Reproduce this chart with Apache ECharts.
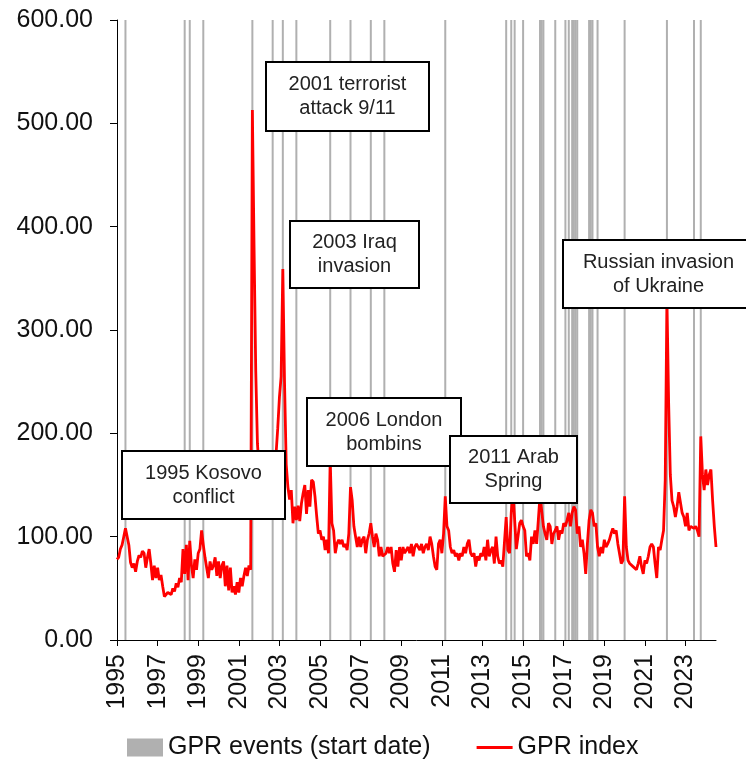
<!DOCTYPE html>
<html>
<head>
<meta charset="utf-8">
<title>GPR index and events</title>
<script src="https://cdn.jsdelivr.net/npm/echarts@6/dist/echarts.min.js"></script>
<style>
  html, body { margin: 0; padding: 0; background: #fff; }
  #gprChart { width: 746px; height: 760px; }
</style>
</head>
<body>
<div id="gprChart"></div>
<script>
// monthly GPR index, Jan 1995 .. Jul 2024 (12 values per row)
const startYear = 1995;
const gprIndex = [
  78, 80, 88, 92, 100, 108, 107, 92, 75, 70, 74, 66,        // 1995
  76, 82, 80, 86, 84, 70, 80, 88, 74, 58, 72, 60,           // 1996
  70, 58, 63, 52, 42, 44, 46, 47, 44, 50, 47, 55,           // 1997
  51, 60, 56, 88, 64, 92, 58, 96, 72, 60, 78, 68,           // 1998
  84, 88, 106, 92, 80, 70, 60, 76, 68, 72, 80, 62,          // 1999
  76, 60, 72, 76, 52, 72, 48, 70, 46, 52, 44, 56,           // 2000
  46, 60, 52, 62, 70, 62, 72, 68, 513, 380, 260, 190,       // 2001
  165, 150, 145, 150, 160, 140, 135, 150, 165, 170, 180, 205, // 2002
  235, 255, 359, 250, 170, 148, 136, 145, 113, 129, 116, 130, // 2003
  115, 132, 142, 150, 122, 145, 129, 155, 153, 139, 120, 103, // 2004
  106, 97, 100, 87, 97, 84, 175, 113, 106, 84, 93, 97,      // 2005
  93, 97, 90, 93, 87, 103, 148, 135, 110, 100, 90, 100,     // 2006
  90, 97, 100, 84, 97, 103, 113, 100, 90, 103, 97, 81,      // 2007
  90, 81, 81, 84, 90, 84, 90, 74, 66, 87, 71, 90,           // 2008
  77, 90, 84, 87, 90, 84, 93, 81, 90, 93, 90, 87,           // 2009
  93, 84, 90, 93, 87, 100, 93, 81, 71, 68, 93, 97,          // 2010
  84, 103, 139, 110, 106, 90, 84, 87, 81, 84, 77, 84,       // 2011
  81, 90, 84, 93, 97, 84, 81, 84, 71, 81, 77, 84,           // 2012
  81, 90, 77, 97, 81, 87, 90, 74, 100, 81, 74, 77,          // 2013
  71, 71, 119, 87, 84, 123, 145, 145, 88, 87, 113, 116,     // 2014
  110, 106, 81, 84, 77, 100, 93, 106, 93, 116, 140, 140,    // 2015
  110, 103, 97, 113, 110, 93, 103, 106, 110, 97, 106, 103,  // 2016
  113, 110, 116, 123, 110, 123, 129, 126, 103, 110, 90, 97, // 2017
  84, 64, 93, 116, 126, 123, 110, 113, 90, 81, 90, 84,      // 2018
  97, 90, 93, 97, 103, 108, 103, 106, 93, 93, 74, 77,       // 2019
  139, 90, 77, 74, 73, 71, 71, 68, 74, 81, 71, 64,          // 2020
  77, 74, 81, 90, 93, 90, 74, 60, 90, 87, 97, 106,          // 2021
  155, 330, 230, 160, 135, 129, 119, 129, 143, 143, 123, 119, // 2022
  110, 123, 106, 110, 110, 108, 110, 106, 100, 197, 160, 145, // 2023
  165, 150, 160, 165, 135, 110, 90                          // 2024
];

// start months of the GPR events (grey lines)
const eventMonths = [
  '1995-06', '1998-05', '1998-08', '1999-04', '2001-09', '2002-09',
  '2003-03', '2003-11', '2005-07', '2006-07', '2007-07', '2008-03',
  '2011-03', '2014-03', '2014-06', '2014-08', '2015-01', '2015-11',
  '2015-12', '2016-01', '2016-08', '2017-02', '2017-04', '2017-06',
  '2017-07', '2017-08', '2017-09', '2018-04', '2018-05', '2018-06',
  '2018-09', '2020-01', '2022-02', '2023-06', '2023-10'
];

const noteTexts = [
  '2001 terrorist\nattack 9/11',
  '2003 Iraq\ninvasion',
  'Russian invasion\nof Ukraine',
  '1995 Kosovo\nconflict',
  '2006 London\nbombins',
  '2011 Arab\nSpring'
];
// box layout for the notes above (pixels: x, y, w, h)
const noteBoxes = [
  [266, 62, 163, 69],
  [290, 221, 129, 67],
  [563, 240, 191, 68],
  [122, 451, 163, 68],
  [307, 398, 154, 68],
  [450, 436, 127, 67]
];

const months = [];
for (let i = 0; i < gprIndex.length; i++) {
  const y = startYear + Math.floor(i / 12);
  const m = (i % 12) + 1;
  months.push(y + '-' + (m < 10 ? '0' + m : m));
}
const eventBars = months.map((m) => (eventMonths.indexOf(m) >= 0 ? 600 : null));

const font = '"Liberation Sans", Arial, sans-serif';
const every2Years = (idx) => idx % 24 === 0;
// thin horizontal bar, padded to a 36x18 box so it is not stretched
const lineIcon = 'path://M0,0L0.01,0L0,0Z M0,7.5H36V10.5H0Z M0,18L0.01,18L0,18Z';

const notes = [];
noteBoxes.forEach((b, k) => {
  notes.push({
    type: 'rect',
    z: 100 + k * 2,
    shape: { x: b[0], y: b[1], width: b[2], height: b[3] },
    style: { fill: '#ffffff', stroke: '#000', lineWidth: 2 }
  });
  notes.push({
    type: 'text',
    z: 101 + k * 2,
    x: b[0] + b[2] / 2,
    y: b[1] + b[3] / 2,
    style: {
      text: noteTexts[k],
      fontFamily: font,
      fontSize: 20,
      lineHeight: 24,
      fill: '#222',
      align: 'center',
      verticalAlign: 'middle',
      textAlign: 'center',
      textVerticalAlign: 'middle'
    }
  });
});

const chart = echarts.init(document.getElementById('gprChart'));
const option = {
  animation: false,
  grid: { left: 117, right: 30, top: 20, bottom: 120 },
  legend: {
    left: 122,
    top: 730,
    itemWidth: 36,
    itemHeight: 18,
    itemGap: 46,
    textStyle: { fontFamily: font, fontSize: 25, color: '#111' },
    data: [
      { name: 'GPR events (start date)', icon: 'rect' },
      { name: 'GPR index', icon: lineIcon }
    ]
  },
  xAxis: {
    type: 'category',
    data: months,
    boundaryGap: false,
    axisLine: { lineStyle: { color: '#000', width: 1 } },
    axisTick: { interval: every2Years, length: 6, lineStyle: { color: '#000' } },
    axisLabel: {
      interval: every2Years,
      rotate: 90,
      margin: 14,
      fontFamily: font,
      fontSize: 25,
      color: '#111',
      formatter: (v) => v.slice(0, 4)
    },
    splitLine: { show: false }
  },
  yAxis: {
    type: 'value',
    min: 0,
    max: 600,
    interval: 100,
    axisLine: { show: true, lineStyle: { color: '#000', width: 1 } },
    axisTick: { show: true, length: 7, lineStyle: { color: '#000' } },
    axisLabel: {
      margin: 24,
      fontFamily: font,
      fontSize: 25,
      color: '#111',
      formatter: (v) => v.toFixed(2)
    },
    splitLine: { show: false }
  },
  series: [
    {
      name: 'GPR events (start date)',
      type: 'bar',
      data: eventBars,
      barWidth: 2,
      itemStyle: { color: '#b0b0b0' },
      silent: true,
      z: 1
    },
    {
      name: 'GPR index',
      type: 'line',
      data: gprIndex,
      symbol: 'none',
      lineStyle: { color: '#ff0000', width: 2.8 },
      itemStyle: { color: '#ff0000' },
      z: 3
    }
  ],
  graphic: { elements: notes }
};
chart.setOption(option);
</script>
</body>
</html>
